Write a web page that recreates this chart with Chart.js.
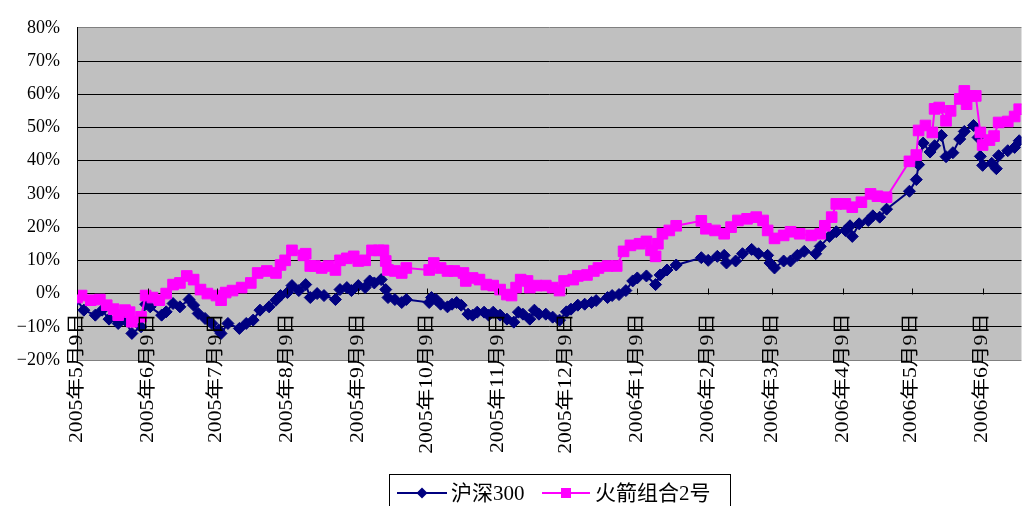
<!DOCTYPE html>
<html>
<head>
<meta charset="utf-8">
<script src="https://cdn.jsdelivr.net/npm/chart.js"></script>
<style>
  html, body { margin: 0; padding: 0; background: #fff; }
</style>
</head>
<body>
<canvas id="c" width="1030" height="506"></canvas>
<script>
// 横轴按日期：2005-05-09 记为第 0 天
const tickDays = [0, 31, 61, 92, 123, 153, 184, 214, 245, 276, 304, 335, 365, 396];
const tickLabels = [
  '2005年5月9日', '2005年6月9日', '2005年7月9日', '2005年8月9日', '2005年9月9日',
  '2005年10月9日', '2005年11月9日', '2005年12月9日', '2006年1月9日', '2006年2月9日',
  '2006年3月9日', '2006年4月9日', '2006年5月9日', '2006年6月9日'
];

// 沪深300 累计收益 (%)
const hsDays = [0,3,8,11,14,18,21,24,28,30,32,37,39,42,45,49,51,53,56,59,62,63,66,71,74,77,80,84,87,89,
  92,94,97,100,102,105,108,113,115,118,120,123,126,128,130,133,135,136,139,142,144,
  154,155,157,159,162,164,166,168,171,173,175,178,180,182,185,188,191,193,195,198,200,202,205,208,211,
  214,216,219,222,225,227,232,234,237,240,243,245,249,253,255,258,262,
  273,276,280,283,284,288,291,295,298,302,303,305,309,312,315,318,323,325,329,332,336,338,339,342,346,348,351,354,
  364,367,368,370,373,375,378,380,383,386,388,392,394,395,396,400,402,403,407,410,412];
const hsValues = [-1.8,-5,-6.5,-5,-7.7,-9,-8,-12,-10,-3.2,-4,-6.5,-5.5,-3,-4,-1.8,-3.5,-6,-7.5,-9,-11,-12,-9,-10.5,-9,-8,-5,-4,-2,-0.6,
  0.3,2.4,0.9,2.7,-1.2,0,-0.6,-1.8,1.2,1.8,0.9,2.4,1.8,3.8,3.2,4.2,1.2,-1.2,-1.8,-2.7,-1.8,
  -2.7,-1.2,-1.8,-3.2,-4,-3.2,-2.7,-3.5,-6.2,-6.5,-5.6,-5.6,-6.5,-5.6,-6.5,-7.7,-8.6,-5.6,-6.2,-7.7,-5,-6.2,-6.2,-7.1,-8,
  -5.5,-4.7,-3.5,-3.2,-2.7,-2.1,-1.2,-0.6,-0.3,0.9,3.8,4.7,5.3,2.7,5.6,7.1,8.6,
  10.8,10,11.2,11.5,9.2,9.8,12,13.3,12,11.5,9.2,7.7,9.8,9.8,11.5,12.7,12,14.2,17.2,18.6,19,20.4,17.2,21,22,23.4,23,25.4,
  30.8,34.3,38.8,45.3,42.6,44.5,47.6,41.2,42.4,46.5,48.8,50.6,47,41.3,38.6,39.2,37.6,41.5,43,44,46];

// 火箭组合2号 累计收益 (%)
const hjDays = [0,2,6,10,13,16,18,21,23,24,28,30,33,36,39,42,45,48,51,54,57,61,63,65,68,72,76,79,83,87,89,
  91,94,99,100,102,104,107,110,113,115,118,121,123,126,129,132,134,135,136,139,142,144,
  154,156,159,162,165,169,170,173,176,179,182,185,188,190,192,194,197,198,201,205,208,211,
  213,217,219,223,226,228,232,236,239,242,246,249,251,253,254,256,259,262,
  273,275,279,283,286,289,293,297,300,302,305,309,312,316,321,325,327,330,332,336,339,343,347,350,354,
  364,367,368,371,374,375,377,380,382,386,388,389,391,393,395,396,399,401,403,407,410,412];
const hjValues = [-1.2,-0.6,-2,-1.8,-3.5,-4.7,-6.5,-5,-5.6,-8.5,-7,-0.6,-1.2,-2,0,2.7,3.2,5.3,4.2,1.2,0,-0.6,-2,0.3,0.9,1.8,3.2,6.2,6.8,6.2,8.6,
  10,13,11.5,12,8.3,8.3,7.7,8.3,7.1,10,10.6,11.2,9.8,10,13,13,13,9.8,7.1,6.8,6.2,7.7,
  7.1,9.2,7.7,6.8,6.8,6.2,3.8,4.7,4.2,2.7,2.4,1.2,-0.3,-0.6,1.8,4.2,3.8,1.8,2.4,2.4,1.8,0.9,
  3.8,4.2,5.3,5.6,6.8,7.7,8.3,8.3,12.7,14.5,15,15.7,13,11.2,15,18,19,20.4,
  21.9,19.5,19,18,20,22,22.5,23,22,19,16.6,17.5,18.6,18,17.5,18,20.4,23,27,27,26,27.5,30,29.3,29,
  39.8,41.7,49.1,50.6,48.5,55.6,56,52,55,58.6,61,57,59.5,59.5,48.5,44.7,46.2,47.4,51.5,51.8,53.3,55.5];

const seriesNames = ['沪深300', '火箭组合2号'];
const HS_COLOR = '#000080';
const HJ_COLOR = '#FF00FF';
const SERIF = "'Liberation Serif', 'Noto Sans CJK SC', serif";

function toPoints(days, values) {
  return days.map((d, i) => ({ x: d, y: values[i] }));
}

// 灰色绘图区背景
const plotBgPlugin = {
  id: 'plotBg',
  beforeDraw(chart) {
    const { ctx, chartArea } = chart;
    ctx.save();
    ctx.fillStyle = '#C0C0C0';
    ctx.fillRect(chartArea.left, chartArea.top, chartArea.right - chartArea.left, chartArea.bottom - chartArea.top);
    ctx.restore();
  }
};

// 0% 处的横轴刻度 + 竖排日期标签 + 图例框
const axisDecorPlugin = {
  id: 'axisDecor',
  afterDraw(chart) {
    const { ctx } = chart;
    const xs = chart.scales.x;
    const ys = chart.scales.y;
    const y0 = Math.round(ys.getPixelForValue(0)) + 0.5;

    ctx.save();
    ctx.strokeStyle = '#000';
    ctx.lineWidth = 1;
    tickDays.forEach((d) => {
      const x = Math.round(xs.getPixelForValue(d)) + 0.5;
      ctx.beginPath();
      ctx.moveTo(x, y0 - 6);
      ctx.lineTo(x, y0);
      ctx.stroke();
    });

    // 标签：从下往上读，末尾对齐在 y=313
    ctx.font = '18px ' + SERIF;
    ctx.fillStyle = '#000';
    ctx.textAlign = 'right';
    ctx.textBaseline = 'middle';
    const stretch = 130 / ctx.measureText(tickLabels[0]).width;
    tickDays.forEach((d, i) => {
      const x = xs.getPixelForValue(d);
      ctx.save();
      ctx.translate(x, 313);
      ctx.rotate(-Math.PI / 2);
      ctx.scale(stretch, 1);
      ctx.fillText(tickLabels[i], 0, 0);
      ctx.restore();
    });

    // 图例
    ctx.fillStyle = '#fff';
    ctx.fillRect(390, 475, 340, 40);
    ctx.strokeStyle = '#000';
    ctx.strokeRect(389.5, 474.5, 341, 40);

    const ly = 493;
    ctx.lineWidth = 2;
    ctx.strokeStyle = HS_COLOR;
    ctx.beginPath(); ctx.moveTo(397, ly); ctx.lineTo(447, ly); ctx.stroke();
    ctx.fillStyle = HS_COLOR;
    ctx.beginPath();
    ctx.moveTo(422, ly - 5.5); ctx.lineTo(427.5, ly); ctx.lineTo(422, ly + 5.5); ctx.lineTo(416.5, ly);
    ctx.closePath(); ctx.fill();

    ctx.strokeStyle = HJ_COLOR;
    ctx.beginPath(); ctx.moveTo(542, ly); ctx.lineTo(590, ly); ctx.stroke();
    ctx.fillStyle = HJ_COLOR;
    ctx.fillRect(561, ly - 5, 10, 10);

    ctx.fillStyle = '#000';
    ctx.font = '21px ' + SERIF;
    ctx.textAlign = 'left';
    ctx.textBaseline = 'middle';
    ctx.fillText(seriesNames[0], 451, ly + 1);
    ctx.fillText(seriesNames[1], 595, ly + 1);
    ctx.restore();
  }
};

const chart = new Chart(document.getElementById('c'), {
  type: 'scatter',
  data: {
    datasets: [
      {
        label: seriesNames[0],
        data: toPoints(hsDays, hsValues),
        showLine: true,
        borderColor: HS_COLOR,
        backgroundColor: HS_COLOR,
        borderWidth: 2,
        pointStyle: 'rectRot',
        pointRadius: 6,
        pointBorderWidth: 1,
        order: 1
      },
      {
        label: seriesNames[1],
        data: toPoints(hjDays, hjValues),
        showLine: true,
        borderColor: HJ_COLOR,
        backgroundColor: HJ_COLOR,
        borderWidth: 2,
        pointStyle: 'rect',
        pointRadius: 7.5,
        pointBorderWidth: 1,
        order: 0
      }
    ]
  },
  options: {
    responsive: false,
    animation: false,
    events: [],
    layout: { padding: { left: 0, right: 0, top: 21, bottom: 146 } },
    plugins: {
      legend: { display: false },
      tooltip: { enabled: false }
    },
    scales: {
      x: {
        type: 'linear',
        min: 0,
        max: 413,
        display: false
      },
      y: {
        min: -20,
        max: 80,
        afterFit: (scale) => { scale.width = 77; },
        ticks: {
          stepSize: 10,
          padding: 17,
          color: '#000',
          font: { family: SERIF, size: 18 },
          callback: (v) => (v < 0 ? '\u2212' + Math.abs(v) : v) + '%'
        },
        grid: {
          drawTicks: false,
          color: (c) => (c.tick && (c.tick.value === 80 || c.tick.value === -20) ? '#808080' : '#000'),
          lineWidth: 1
        },
        border: { color: '#000', width: 1 }
      }
    }
  },
  plugins: [plotBgPlugin, axisDecorPlugin]
});
</script>
</body>
</html>
